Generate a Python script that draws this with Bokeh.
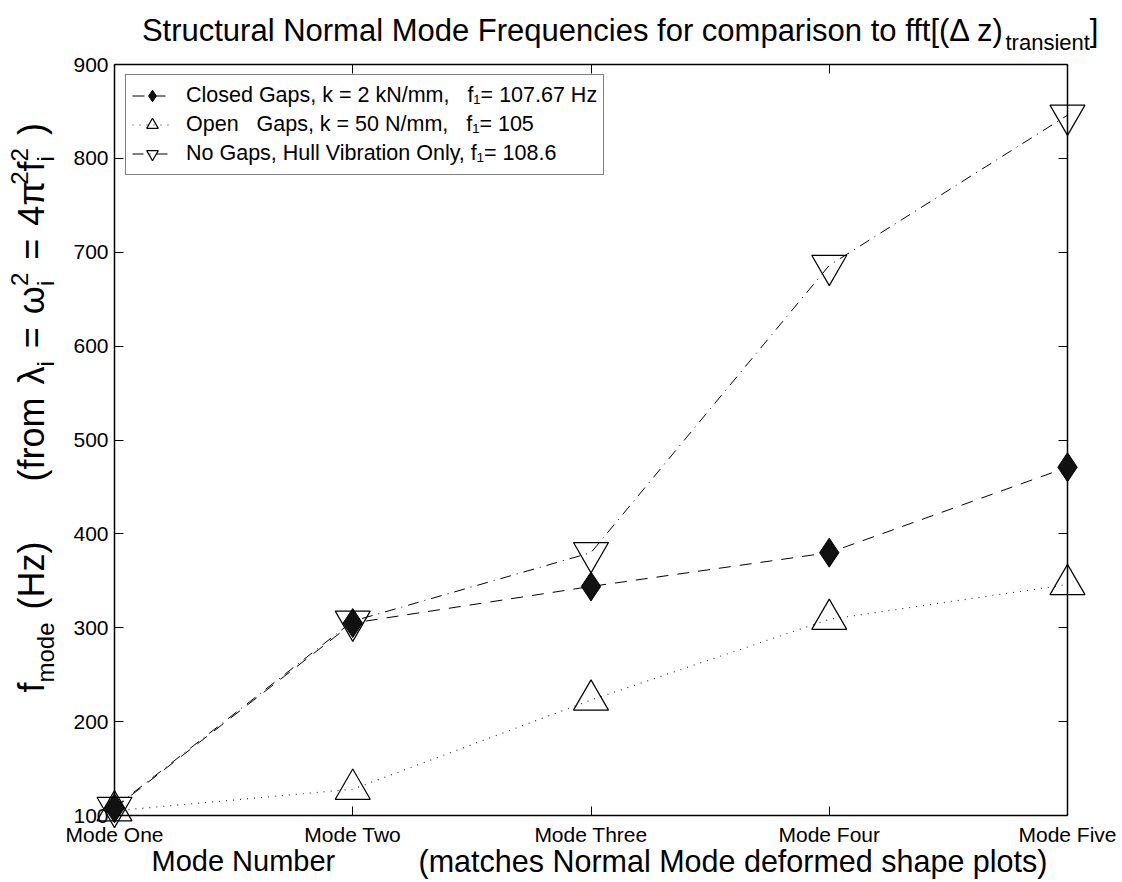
import math
from bokeh.plotting import figure
from bokeh.models import Range1d, FixedTicker, LinearAxis, Legend, LegendItem
from bokeh.core.properties import value
from bokeh.embed import file_html
from bokeh.resources import INLINE

# ---------------- data ----------------
modes = [1, 2, 3, 4, 5]
mode_labels = ["Mode One", "Mode Two", "Mode Three", "Mode Four", "Mode Five"]
closed_gaps = [107.67, 305, 344, 380, 471]
open_gaps = [105, 128, 223, 309, 346]
no_gaps = [108.6, 307, 380, 686, 846]
y_ticks = [100, 200, 300, 400, 500, 600, 700, 800, 900]
legend_labels = [
    "Closed Gaps, k = 2 kN/mm,\u00a0\u00a0\u00a0f\u2081= 107.67 Hz",
    "Open\u00a0\u00a0\u00a0Gaps, k = 50 N/mm,\u00a0\u00a0\u00a0f\u2081= 105",
    "No Gaps, Hull Vibration Only, f\u2081= 108.6",
]
title_main = "Structural Normal Mode Frequencies for comparison to fft[(\u0394 z)"
title_sub = "transient"
title_end = "]"
xlabel_a = "Mode Number"
xlabel_b = "(matches Normal Mode deformed shape plots)"

FONT = "Liberation Sans"

# frame in page pixels
FL, FR, FT, FB = 114, 1067, 64, 815
W, H = 1120, 880
OFF = 0.38  # empirical baseline correction (em)


def DX(px):
    return 1 + (px - FL) * 4.0 / (FR - FL)


def DY(py):
    return 100 + (FB - py) * 800.0 / (FB - FT)


AW = {' ': 278, '\u00a0': 278, '(': 333, ')': 333, '[': 278, ']': 278, ',': 278, '.': 278,
      '/': 278, '=': 584, 'A': 667, 'B': 667, 'C': 722, 'D': 722, 'E': 667, 'F': 611, 'G': 778,
      'H': 722, 'I': 278, 'M': 833, 'N': 722, 'O': 778, 'S': 667, 'T': 611, 'V': 667,
      'a': 556, 'b': 556, 'c': 500, 'd': 556, 'e': 556, 'f': 278, 'g': 556, 'h': 556, 'i': 222,
      'k': 500, 'l': 222, 'm': 833, 'n': 556, 'o': 556, 'p': 556, 'q': 556, 'r': 333, 's': 500,
      't': 278, 'u': 556, 'v': 500, 'w': 722, 'y': 500, 'z': 500,
      '\u03bb': 500, '\u03c9': 780, '\u03c0': 580, '\u0394': 668}


def tw(s, size):
    return sum(AW.get(c, 556) for c in s) * size / 1000.0


p = figure(width=W, height=H, x_range=Range1d(1, 5), y_range=Range1d(100, 900),
           output_backend="svg", toolbar_location=None,
           min_border_left=FL, min_border_right=W - FR,
           min_border_top=FT, min_border_bottom=H - FB,
           background_fill_color="white", border_fill_color="white",
           outline_line_color=None)
p.xgrid.visible = False
p.ygrid.visible = False


def style_axis(ax, ticks, show_labels):
    ax.ticker = FixedTicker(ticks=ticks)
    ax.major_tick_in = 9
    ax.major_tick_out = 0
    ax.minor_tick_in = 0
    ax.minor_tick_out = 0
    ax.axis_line_color = "black"
    ax.axis_line_width = 1.5
    ax.major_tick_line_color = "black"
    ax.major_tick_line_width = 1
    ax.major_label_text_font = FONT
    ax.major_label_text_font_size = "21px"
    ax.major_label_text_color = "black" if show_labels else None


xa = p.xaxis[0]
style_axis(xa, modes, True)
xa.major_label_overrides = {m: t for m, t in zip(modes, mode_labels)}
xa.major_label_standoff = 7
ya = p.yaxis[0]
style_axis(ya, y_ticks, True)
ya.major_label_standoff = 6

top_ax = LinearAxis()
style_axis(top_ax, modes, False)
p.add_layout(top_ax, "above")
right_ax = LinearAxis()
style_axis(right_ax, y_ticks, False)
p.add_layout(right_ax, "right")

# ---------------- series ----------------
r1l = p.line(modes, closed_gaps, line_color="black", line_width=1, line_dash="12 9")
r1m = p.scatter(modes, closed_gaps, marker="diamond", size=29, fill_color="#111111",
                line_color="black", line_width=1, level="overlay")
r2l = p.line(modes, open_gaps, line_color="#333333", line_width=1.2, line_dash="1 6")
r2m = p.scatter(modes, open_gaps, marker="triangle", size=35, fill_color=None,
                line_color="black", line_width=1.2, level="overlay")
r3l = p.line(modes, no_gaps, line_color="black", line_width=1, line_dash="11 6 1 6")
r3m = p.scatter(modes, no_gaps, marker="inverted_triangle", size=35, fill_color=None,
                line_color="black", line_width=1.2, level="overlay")

legend = Legend(items=[LegendItem(label=legend_labels[0], renderers=[r1l, r1m]),
                       LegendItem(label=legend_labels[1], renderers=[r2l, r2m]),
                       LegendItem(label=legend_labels[2], renderers=[r3l, r3m])],
                location=(125 - FL, FB - 175), margin=0, padding=6, spacing=0,
                glyph_width=40, glyph_height=29, label_height=29, label_standoff=14,
                label_text_font=FONT, label_text_font_size="21.5px", label_text_color="black",
                border_line_color="black", border_line_width=1,
                background_fill_color="white", background_fill_alpha=1)
p.add_layout(legend)


def lab(text, px, py, size, angle=0.0, align="left"):
    if angle == 0.0:
        py = py - OFF * size
    else:
        px = px - OFF * size
    p.text(x=[DX(px)], y=[DY(py)], text=[text], angle=angle,
           text_font=value(FONT), text_font_size=value(f"{size}px"), text_color="black",
           text_align=align, text_baseline="alphabetic", level="overlay")


# ---------------- title ----------------
TS, TSUB = 31, 22
anchor = 1004
lab(title_main, anchor, 42, TS, align="right")
lab(title_sub, anchor + 1, 50, TSUB)
lab(title_end, anchor + 1 + tw(title_sub, TSUB), 42, TS)

# ---------------- x label ----------------
lab(xlabel_a, 151, 872, 29)
lab(xlabel_b, 418, 872, 30.5)

# ---------------- y label (rotated) ----------------
M, S = 36, 24
SUB, SUP = 9, -17
GAP = 13
x0 = 45
HALF_PI = math.pi / 2


def chain(y_start, pieces):
    y = y_start
    for item in pieces:
        if item == "gap":
            y -= GAP
        elif isinstance(item, list):
            for t, sz, sh in item:
                lab(t, x0 + sh, y, sz, angle=HALF_PI)
            y -= max(tw(t, sz) for t, sz, sh in item)
        else:
            t, sz, sh = item
            lab(t, x0 + sh, y, sz, angle=HALF_PI)
            y -= tw(t, sz)


chain(692, [("f", M, 0), ("mode", S, SUB), "gap", ("(Hz)", M, 0)])
chain(481, [("(from", M, 0), "gap", ("\u03bb", M, 0), ("i", S, SUB), "gap", ("=", M, 0), "gap",
            ("\u03c9", M, 0), [("i", S, SUB), ("2", S, SUP)], "gap", ("=", M, 0), "gap",
            ("4\u03c0", M, 0), ("2", S, SUP), ("f", M, 0), [("i", S, SUB), ("2", S, SUP)],
            "gap", (")", M, 0)])

open("out.html", "w").write(file_html(p, INLINE))
